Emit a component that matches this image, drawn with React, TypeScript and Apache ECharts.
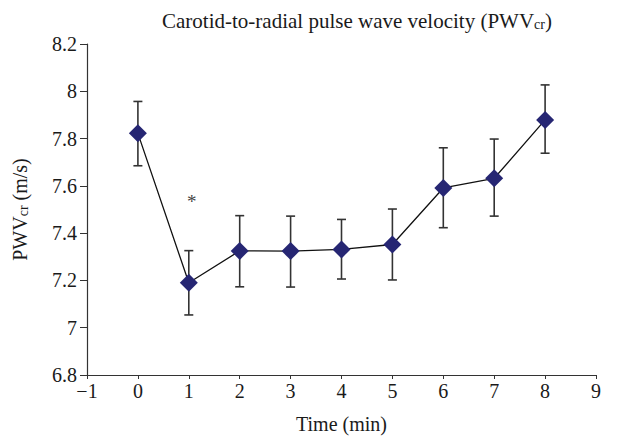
import React, { useEffect, useRef } from "react";
import * as echarts from "echarts";

const times = [0, 1, 2, 3, 4, 5, 6, 7, 8];
const means = [7.822, 7.19, 7.325, 7.324, 7.331, 7.352, 7.591, 7.632, 7.879];
const upper = [7.957, 7.326, 7.474, 7.472, 7.458, 7.502, 7.761, 7.798, 8.027];
const lower = [7.685, 7.054, 7.173, 7.172, 7.206, 7.202, 7.423, 7.472, 7.738];
const asteriskPos = [1.06, 7.535];

const FONT = "Liberation Serif";
const TXT = "#1a1a1a";

export default function App() {
  const ref = useRef<HTMLDivElement>(null);
  useEffect(() => {
    const chart = echarts.init(ref.current!, null, { renderer: "svg" });
    const sub = { fontSize: 14, fontFamily: FONT, color: TXT, verticalAlign: "bottom" };
    chart.setOption({
      animation: false,
      backgroundColor: "#fff",
      title: {
        text: "Carotid-to-radial pulse wave velocity (PWV{sub|cr})",
        left: 352,
        top: 5,
        textAlign: "center",
        textStyle: {
          fontFamily: FONT,
          fontSize: 21,
          fontWeight: "normal",
          color: TXT,
          rich: { sub },
        },
      },
      grid: { left: 87, right: 21, top: 44, bottom: 65 },
      xAxis: {
        type: "value",
        min: -1,
        max: 9,
        interval: 1,
        name: "Time (min)",
        nameLocation: "middle",
        nameGap: 39,
        nameTextStyle: { fontFamily: FONT, fontSize: 20, color: TXT },
        axisLine: { onZero: false, lineStyle: { color: "#333", width: 1.2 } },
        axisTick: { inside: false, length: 4, lineStyle: { color: "#333" } },
        axisLabel: {
          fontFamily: FONT,
          fontSize: 20,
          color: TXT,
          margin: 6,
          formatter: (v: number) => String(v).replace("-", "\u2212"),
        },
        splitLine: { show: false },
      },
      yAxis: {
        type: "value",
        min: 6.8,
        max: 8.2,
        interval: 0.2,
        name: "PWV{sub|cr} (m/s)",
        nameLocation: "middle",
        nameGap: 57,
        nameRotate: 90,
        nameTextStyle: { fontFamily: FONT, fontSize: 20, color: TXT, rich: { sub } },
        axisLine: { show: true, onZero: false, lineStyle: { color: "#333", width: 1.2 } },
        axisTick: { show: true, length: 7, lineStyle: { color: "#333" } },
        axisLabel: {
          fontFamily: FONT,
          fontSize: 20,
          color: TXT,
          margin: 10,
          formatter: (v: number) => String(Math.round(v * 10) / 10),
        },
        splitLine: { show: false },
      },
      series: [
        {
          type: "custom",
          data: times.map((t, i) => [t, lower[i], upper[i]]),
          renderItem: (params: any, api: any) => {
            const x = api.value(0);
            const lo = api.coord([x, api.value(1)]);
            const hi = api.coord([x, api.value(2)]);
            const hw = 4.5;
            const style = { stroke: "#333", lineWidth: 1.6, fill: "none" };
            return {
              type: "group",
              children: [
                { type: "line", shape: { x1: lo[0], y1: lo[1], x2: hi[0], y2: hi[1] }, style },
                { type: "line", shape: { x1: hi[0] - hw, y1: hi[1], x2: hi[0] + hw, y2: hi[1] }, style },
                { type: "line", shape: { x1: lo[0] - hw, y1: lo[1], x2: lo[0] + hw, y2: lo[1] }, style },
              ],
            };
          },
          z: 1,
        },
        {
          type: "line",
          data: times.map((t, i) => [t, means[i]]),
          symbol: "diamond",
          symbolSize: [18, 18],
          lineStyle: { color: "#111", width: 1.3 },
          itemStyle: { color: "#262673" },
          z: 3,
        },
        {
          type: "custom",
          data: [asteriskPos],
          silent: true,
          itemStyle: { color: "#444" },
          renderItem: (params: any, api: any) => {
            const p = api.coord([api.value(0), api.value(1)]);
            return {
              type: "text",
              x: p[0],
              y: p[1],
              style: {
                text: "*",
                fontFamily: FONT,
                fontSize: 19,
                fill: "#444",
                align: "center",
                verticalAlign: "middle",
              },
            };
          },
          z: 4,
        },
      ],
    });
    return () => chart.dispose();
  }, []);
  return (
    <div
      ref={ref}
      style={{ width: 617, height: 440, position: "absolute", left: 0, top: 0 }}
    />
  );
}
